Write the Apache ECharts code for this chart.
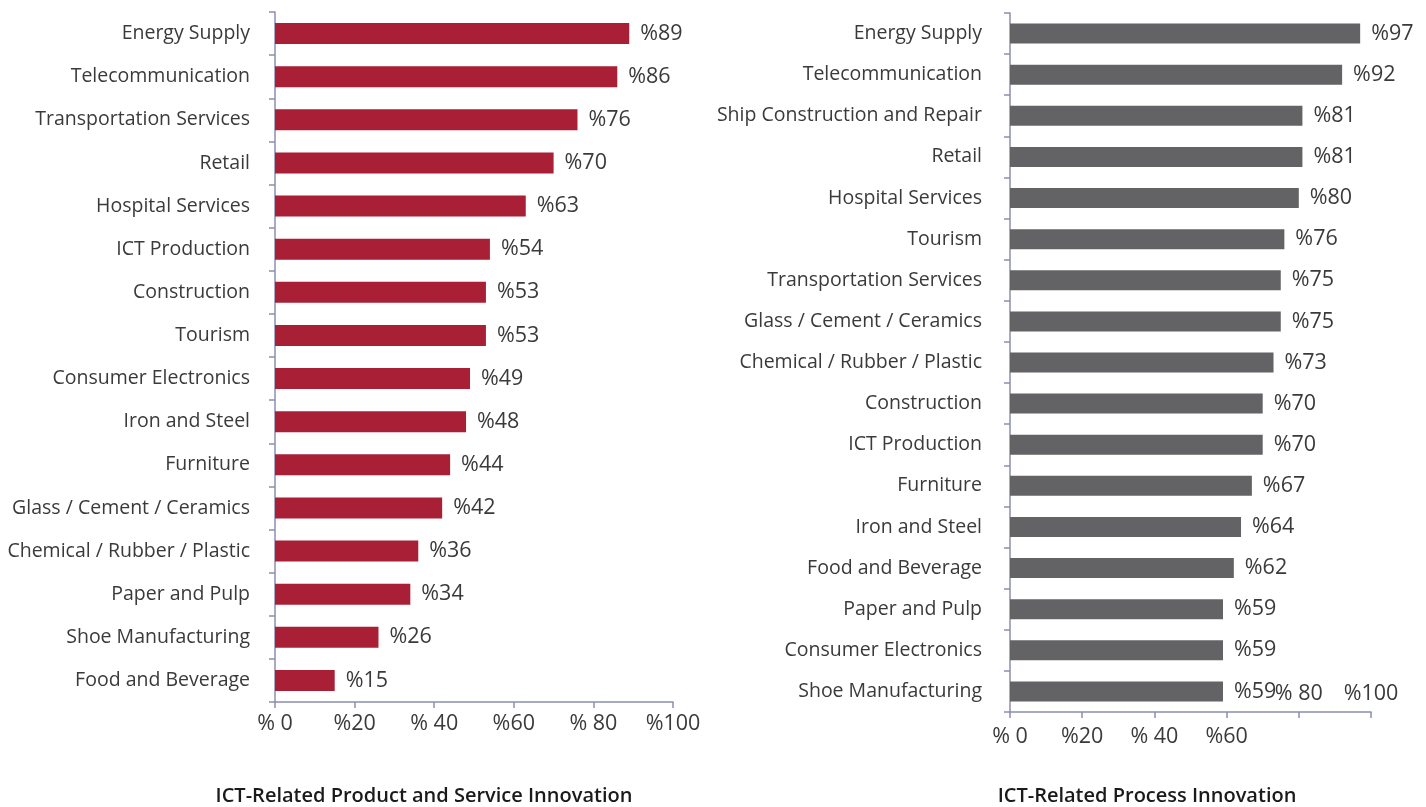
<!DOCTYPE html>
<html>
<head>
<meta charset="utf-8">
<script src="https://cdn.jsdelivr.net/npm/echarts@6/dist/echarts.min.js"></script>
<style>
html,body{margin:0;padding:0;background:#fff;}
#c{width:1426px;height:807px;}
</style>
</head>
<body>
<div id="c"></div>
<script>
const productCategories = ['Energy Supply','Telecommunication','Transportation Services','Retail','Hospital Services','ICT Production','Construction','Tourism','Consumer Electronics','Iron and Steel','Furniture','Glass / Cement / Ceramics','Chemical / Rubber / Plastic','Paper and Pulp','Shoe Manufacturing','Food and Beverage'];
const productValues = [89,86,76,70,63,54,53,53,49,48,44,42,36,34,26,15];

const processCategories = ['Energy Supply','Telecommunication','Ship Construction and Repair','Retail','Hospital Services','Tourism','Transportation Services','Glass / Cement / Ceramics','Chemical / Rubber / Plastic','Construction','ICT Production','Furniture','Iron and Steel','Food and Beverage','Paper and Pulp','Consumer Electronics','Shoe Manufacturing'];
const processValues = [97,92,81,81,80,76,75,75,73,70,70,67,64,62,59,59,59];

const tickLabels = {0:'% 0',20:'%20',40:'% 40',60:'%60',80:'% 80',100:'%100'};
const titles = ['ICT-Related Product and Service Innovation','ICT-Related Process Innovation'];

const FONT = 'Open Sans';
const AXIS_COLOR = '#8B8FAE';
const TEXT_COLOR = '#3a3a3a';

const chart = echarts.init(document.getElementById('c'), null, {renderer:'canvas'});

function yAxisCfg(gridIndex, cats, margin){
  return {
    type:'category', gridIndex, data:cats, inverse:true,
    axisLine:{show:true, lineStyle:{color:AXIS_COLOR, width:1.5}},
    axisTick:{show:true, length:6, lineStyle:{color:AXIS_COLOR, width:1.5}},
    axisLabel:{color:TEXT_COLOR, fontFamily:FONT, fontSize:19.5, margin:margin}
  };
}
function xAxisCfg(gridIndex, opts){
  return Object.assign({
    type:'value', gridIndex, position:'bottom', min:0, max:100, interval:20,
    splitLine:{show:false},
    axisLine:{show:true, lineStyle:{color:AXIS_COLOR, width:1.5}},
    axisTick:{show:true, length:6, lineStyle:{color:AXIS_COLOR, width:1.5}},
    axisLabel:{color:TEXT_COLOR, fontFamily:FONT, fontSize:21.5, margin:11,
      formatter:v=>tickLabels[v]}
  }, opts||{});
}

const labelCfg = {show:true, position:'right', distance:11, color:TEXT_COLOR, fontFamily:FONT, fontSize:21.5,
  formatter:p=>'%'+p.value};

chart.setOption({
  animation:false,
  grid:[
    {left:275, top:12, width:398, height:690},
    {left:1010, top:13, width:361, height:699}
  ],
  yAxis:[yAxisCfg(0, productCategories, 25), yAxisCfg(1, processCategories, 28)],
  xAxis:[
    xAxisCfg(0),
    xAxisCfg(1, {axisLabel:{color:TEXT_COLOR, fontFamily:FONT, fontSize:21.5, margin:14,
      formatter:v=>(v<=60?tickLabels[v]:'')}}),
    xAxisCfg(1, {axisLine:{show:false}, axisTick:{show:false},
      axisLabel:{color:TEXT_COLOR, fontFamily:FONT, fontSize:21.5, margin:-29,
      formatter:v=>(v>60?tickLabels[v]:'')}})
  ],
  series:[
    {type:'bar', xAxisIndex:0, yAxisIndex:0, data:productValues, barWidth:21,
     itemStyle:{color:'#A91F36'}, label:labelCfg},
    {type:'bar', xAxisIndex:1, yAxisIndex:1, data:processValues, barWidth:20,
     itemStyle:{color:'#636366'}, label:labelCfg}
  ],
  graphic:[
    {type:'text', x:424, y:796, style:{text:titles[0], textAlign:'center', textVerticalAlign:'middle',
      fill:'#1a1a1a', font:'600 20px "Open Sans"'}},
    {type:'text', x:1147, y:796, style:{text:titles[1], textAlign:'center', textVerticalAlign:'middle',
      fill:'#1a1a1a', font:'600 20px "Open Sans"'}}
  ]
});
</script>
</body>
</html>
